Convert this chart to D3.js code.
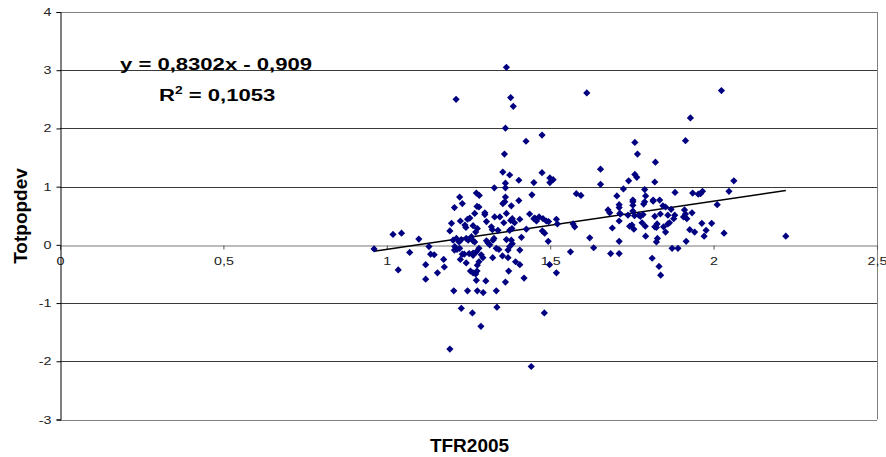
<!DOCTYPE html>
<html>
<head>
<meta charset="utf-8">
<script src="https://cdn.jsdelivr.net/npm/d3@7"></script>
<style>
  body { margin: 0; background: #fff; }
  svg { font-family: "Liberation Sans", Arial, sans-serif; }
</style>
</head>
<body>
<svg id="chart" width="886" height="457"></svg>
<script>
// TFR2005 (x) and Totpopdev (y)
const tfr = [
  1.366, 1.212, 1.379, 1.387, 1.363, 1.426, 1.360, 1.355, 1.376, 1.404,
  1.450, 1.363, 1.329, 1.363, 1.223, 1.274, 1.283, 1.363, 1.444, 1.612,
  1.929, 1.475, 1.759, 1.767, 1.914, 1.822, 1.654, 1.475, 1.499, 1.509,
  1.499, 1.759, 1.765, 1.740, 1.820, 1.654, 1.724, 1.789, 1.580, 1.594,
  1.704, 1.792, 1.882, 1.936, 1.953, 1.966, 1.753, 1.815, 1.835, 2.024,
  2.062, 2.047, 1.960, 2.011, 1.964, 1.994, 1.977, 1.971, 2.032, 2.221,
  1.711, 1.711, 1.753, 1.753, 1.786, 1.789, 1.815, 1.845, 1.870, 1.677,
  1.682, 1.715, 1.738, 1.758, 1.771, 1.820, 1.837, 1.860, 1.881, 1.878,
  1.911, 1.914, 1.908, 1.918, 1.934, 1.690, 1.711, 1.743, 1.750, 1.756,
  1.781, 1.791, 1.820, 1.827, 1.825, 1.847, 1.860, 1.865, 1.853, 1.792,
  1.828, 1.825, 1.711, 1.916, 1.927, 1.942, 1.685, 1.711, 1.812, 1.833,
  1.838, 1.873, 1.891, 1.853, 1.713, 1.753, 1.776, 1.784, 1.407, 1.437,
  1.450, 1.466, 1.478, 1.488, 1.495, 1.519, 1.522, 1.476, 1.483, 1.427,
  1.412, 1.494, 1.570, 1.575, 1.621, 1.633, 1.562, 1.498, 1.407, 1.407,
  1.420, 1.519, 1.482, 1.442, 1.035, 1.070, 1.119, 1.119, 1.155, 1.134,
  1.145, 1.174, 1.176, 1.205, 1.247, 1.277, 1.295, 1.335, 1.228, 1.262,
  1.337, 1.288, 1.193, 1.207, 1.225, 1.231, 1.243, 1.252, 1.264, 1.274,
  1.289, 1.282, 1.277, 1.256, 1.264, 1.272, 1.276, 1.274, 1.303, 1.324,
  1.354, 1.371, 1.394, 1.373, 1.363, 1.231, 1.207, 1.276, 1.282, 1.355,
  1.361, 1.381, 1.300, 1.300, 1.330, 1.346, 1.366, 1.404, 1.453, 1.458,
  1.269, 1.254, 1.247, 1.225, 1.198, 1.193, 1.019, 1.045, 1.098, 0.961,
  1.129, 1.239, 1.242, 1.264, 1.277, 1.272, 1.305, 1.320, 1.323, 1.340,
  1.358, 1.379, 1.384, 1.376, 1.383, 1.391, 1.203, 1.213, 1.221, 1.228,
  1.243, 1.249, 1.259, 1.264, 1.269, 1.208, 1.215, 1.223, 1.237, 1.264,
  1.282, 1.294, 1.305, 1.310, 1.315, 1.325, 1.328, 1.335, 1.343, 1.371,
  1.376, 1.381, 1.384, 1.366
];
const totpopdev = [
  3.05, 2.50, 2.53, 2.38, 2.005, 1.78, 1.56, 1.25, 1.20, 1.11,
  1.07, 1.06, 0.98, 0.98, 0.82, 0.89, 0.85, 0.82, 0.86, 2.61,
  2.18, 1.885, 1.76, 1.56, 1.79, 1.42, 1.30, 1.24, 1.15, 1.12,
  1.07, 1.21, 1.16, 1.10, 1.08, 1.04, 0.96, 0.95, 0.88, 0.85,
  0.84, 0.84, 0.90, 0.89, 0.87, 0.92, 0.77, 0.77, 0.77, 2.65,
  1.10, 0.92, 0.88, 0.69, 0.37, 0.37, 0.25, 0.15, 0.20, 0.15,
  0.69, 0.64, 0.74, 0.68, 0.70, 0.74, 0.75, 0.67, 0.61, 0.60,
  0.55, 0.53, 0.51, 0.50, 0.51, 0.49, 0.53, 0.51, 0.51, 0.45,
  0.60, 0.53, 0.48, 0.45, 0.55, 0.29, 0.41, 0.32, 0.34, 0.27,
  0.38, 0.32, 0.31, 0.36, 0.30, 0.31, 0.36, 0.38, 0.22, 0.15,
  0.11, 0.05, 0.06, 0.06, 0.26, 0.22, -0.15, -0.15, -0.23, -0.37,
  -0.52, -0.06, -0.06, 0.65, 0.54, 0.58, 0.49, 0.52, 0.44, 0.53,
  0.45, 0.48, 0.45, 0.41, 0.40, 0.44, 0.36, 0.24, 0.20, 0.27,
  0.13, 0.06, 0.36, 0.31, 0.12, -0.05, -0.12, -0.34, -0.09, -0.34,
  -0.57, -0.48, -1.17, -2.09, -0.43, -0.13, -0.34, -0.59, -0.48, -0.16,
  -0.17, -0.25, -0.38, -0.79, -0.79, -0.79, -0.82, -0.79, -1.09, -1.17,
  -1.07, -1.40, -1.79, -0.09, -0.25, -0.16, -0.31, -0.15, -0.18, -0.12,
  -0.17, -0.29, -0.35, -0.45, -0.48, -0.50, -0.45, -0.61, -0.62, -0.22,
  -0.19, -0.22, -0.29, -0.45, -0.64, 0.71, 0.64, 0.66, 0.65, 0.71,
  0.74, 0.67, 0.55, 0.52, 0.48, 0.48, 0.54, 0.76, 0.46, 0.41,
  0.54, 0.46, 0.44, 0.41, 0.37, 0.24, 0.18, 0.20, 0.10, -0.07,
  -0.03, 0.34, 0.30, 0.33, 0.28, 0.22, 0.40, 0.31, 0.26, 0.25,
  0.38, 0.42, 0.45, 0.25, 0.28, 0.38, 0.08, 0.11, 0.05, 0.09,
  0.11, 0.08, 0.14, 0.07, 0.05, -0.03, -0.08, -0.06, -0.16, -0.14,
  -0.06, -0.22, 0.07, 0.03, 0.00, 0.08, 0.11, -0.06, -0.08, -0.09,
  -0.03, 0.08, 0.02, 0.09
];
const xTicks = [0, 0.5, 1, 1.5, 2, 2.5];
const yTicks = [-3, -2, -1, 0, 1, 2, 3, 4];
// linear trendline shown in the chart
const slope = 0.8302, intercept = -0.909;
const eqLabel = "y = 0,8302x - 0,909";
const r2Value = "0,1053";

const svg = d3.select("#chart");
const margin = {left: 60, right: 9, top: 12, bottom: 37.5};
const width = 886, height = 457;
const stretch = 1.3; // tick text in the picture is widened

const locale = d3.formatLocale({decimal: ",", thousands: " ", grouping: [3], currency: ["", ""], minus: "-"});
const fmt = locale.format("");

const xScale = d3.scaleLinear().domain([0, 2.5]).range([margin.left, width - margin.right]);
const yScale = d3.scaleLinear().domain([-3, 4]).range([height - margin.bottom, margin.top]);

// gridlines
svg.append("g").selectAll("line").data(yTicks.filter(d => d !== 0)).enter().append("line")
  .attr("x1", xScale(0)).attr("x2", xScale(2.5))
  .attr("y1", d => Math.round(yScale(d)) + 0.5).attr("y2", d => Math.round(yScale(d)) + 0.5)
  .attr("stroke", d => (d === 4 || d === -3) ? "#808080" : "#3a3a3a")
  .attr("stroke-width", 1);

// right border of plot area
svg.append("line")
  .attr("x1", Math.round(xScale(2.5)) + 0.5).attr("x2", Math.round(xScale(2.5)) + 0.5)
  .attr("y1", yScale(4)).attr("y2", yScale(-3))
  .attr("stroke", "#808080");

// x axis on y = 0
const xAxis = svg.append("g")
  .attr("transform", `translate(0,${Math.round(yScale(0)) + 0.5})`)
  .call(d3.axisBottom(xScale).tickValues(xTicks).tickSize(4).tickPadding(8).tickFormat(fmt));
xAxis.select(".domain").attr("stroke", "#777");
xAxis.selectAll(".tick line").attr("stroke", "#555");
xAxis.selectAll(".tick text")
  .attr("font-size", 11).attr("fill", "#222")
  .attr("font-family", "Liberation Sans, Arial, sans-serif")
  .attr("transform", `scale(${stretch},1)`);

// y axis
const yAxis = svg.append("g")
  .attr("transform", `translate(${margin.left + 0.5},0)`)
  .call(d3.axisLeft(yScale).tickValues(yTicks).tickSize(4).tickPadding(3).tickFormat(fmt));
yAxis.select(".domain").attr("stroke", "#000");
yAxis.selectAll(".tick line").attr("stroke", "#000");
yAxis.selectAll(".tick text")
  .attr("font-size", 11).attr("fill", "#222")
  .attr("font-family", "Liberation Sans, Arial, sans-serif")
  .attr("transform", `scale(${stretch},1)`);

// trendline over the range of the data
const xExt = d3.extent(tfr);
svg.append("line")
  .attr("x1", xScale(xExt[0])).attr("y1", yScale(slope * xExt[0] + intercept))
  .attr("x2", xScale(xExt[1])).attr("y2", yScale(slope * xExt[1] + intercept))
  .attr("stroke", "#000").attr("stroke-width", 1.5);

// points as diamonds
const data = tfr.map((x, i) => ({x: x, y: totpopdev[i]}));
const r = 3.6;
svg.append("g").selectAll("path").data(data).enter().append("path")
  .attr("d", `M0,${-r}L${r},0L0,${r}L${-r},0Z`)
  .attr("transform", d => `translate(${xScale(d.x)},${yScale(d.y)})`)
  .attr("fill", "#000080");

// equation and R²
svg.append("text")
  .attr("transform", `translate(120,70) scale(1.38,1)`)
  .attr("font-size", 16).attr("font-weight", "bold")
  .text(eqLabel);
const r2 = svg.append("text")
  .attr("transform", `translate(159,101) scale(1.38,1)`)
  .attr("font-size", 16).attr("font-weight", "bold");
r2.append("tspan").text("R");
r2.append("tspan").attr("font-size", 10).attr("dy", -7).text("2");
r2.append("tspan").attr("dy", 7).text(" = " + r2Value);

// axis titles
svg.append("text")
  .attr("x", (xScale(0) + xScale(2.5)) / 2 + 1).attr("y", 452)
  .attr("text-anchor", "middle")
  .attr("font-size", 19).attr("font-weight", "bold")
  .text("TFR2005");
svg.append("text")
  .attr("transform", `translate(27,216) rotate(-90)`)
  .attr("text-anchor", "middle")
  .attr("font-size", 19).attr("font-weight", "bold")
  .text("Totpopdev");
</script>
</body>
</html>
